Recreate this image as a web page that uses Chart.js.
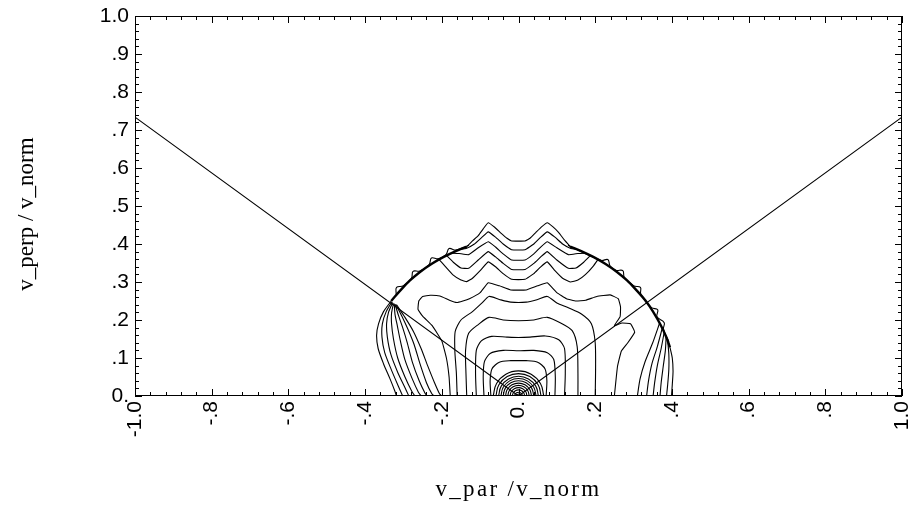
<!DOCTYPE html>
<html><head><meta charset="utf-8">
<script src="https://cdn.jsdelivr.net/npm/chart.js@4.4.1/dist/chart.umd.min.js"></script>
<style>html,body{margin:0;padding:0;background:#fff}canvas{display:block}</style>
</head><body>
<canvas id="c" width="915" height="529"></canvas>
<script>
// ---- axis ticks and titles ----
const xTickVals = [-1, -0.8, -0.6, -0.4, -0.2, 0, 0.2, 0.4, 0.6, 0.8, 1];
const xTickLabels = ['-1.0', '-.8', '-.6', '-.4', '-.2', '0.', '.2', '.4', '.6', '.8', '1.0'];
const yTickVals = [0, 0.1, 0.2, 0.3, 0.4, 0.5, 0.6, 0.7, 0.8, 0.9, 1];
const yTickLabels = ['0.', '.1', '.2', '.3', '.4', '.5', '.6', '.7', '.8', '.9', '1.0'];
const xTitle = 'v_par /v_norm';
const yTitle = 'v_perp / v_norm';

// ---- straight lines from origin ----
const diagLine = [[-1, 0.734], [0, 0], [1, 0.734]];

// ---- thick bunched arcs ----
const arcLeft = [[-0.332,0.250],[-0.308,0.278],[-0.283,0.304],[-0.256,0.327],[-0.226,0.348],[-0.195,0.366],[-0.162,0.382],[-0.135,0.393]];
const arcRight = [[0.135,0.393],[0.162,0.382],[0.195,0.366],[0.226,0.348],[0.256,0.327],[0.283,0.304],[0.308,0.278],[0.332,0.250],[0.352,0.220],[0.370,0.188],[0.385,0.156],[0.395,0.128]];

// ---- scalloped outer contours ----
const scallopLeft = [[-0.319,0.268],[-0.318,0.286],[-0.300,0.290],[-0.279,0.310],[-0.275,0.328],[-0.257,0.329],[-0.233,0.346],[-0.227,0.363],[-0.2085,0.361],[-0.189,0.372],[-0.181,0.388],[-0.163,0.384],[-0.129,0.397]];
const scallopRight = [[0.129,0.397],[0.215,0.357],[0.233,0.359],[0.239,0.342],[0.254,0.331],[0.272,0.330],[0.276,0.312],[0.300,0.290],[0.318,0.286],[0.319,0.268],[0.346,0.233],[0.363,0.227],[0.361,0.2085],[0.380,0.193],[0.378,0.176],[0.392,0.143]];

// ---- left fan contours ----
const fanL1 = [[-0.332,0.250],[-0.352,0.222],[-0.365,0.19],[-0.370,0.16],[-0.366,0.125],[-0.352,0.085],[-0.335,0.045],[-0.322,0.012],[-0.318,0]];
const fanL2 = [[-0.330,0.248],[-0.345,0.222],[-0.355,0.19],[-0.356,0.155],[-0.349,0.115],[-0.332,0.07],[-0.313,0.025],[-0.302,0]];
const fanL3 = [[-0.328,0.246],[-0.339,0.22],[-0.344,0.19],[-0.342,0.155],[-0.333,0.11],[-0.314,0.06],[-0.295,0.02],[-0.286,0]];
const fanL4 = [[-0.326,0.244],[-0.331,0.218],[-0.331,0.19],[-0.326,0.15],[-0.315,0.10],[-0.296,0.05],[-0.278,0.012],[-0.270,0]];
const fanL5 = [[-0.324,0.243],[-0.322,0.215],[-0.316,0.185],[-0.308,0.145],[-0.296,0.095],[-0.277,0.045],[-0.261,0.01],[-0.254,0]];
const fanL6 = [[-0.322,0.242],[-0.313,0.212],[-0.302,0.18],[-0.290,0.14],[-0.277,0.09],[-0.259,0.04],[-0.244,0.008],[-0.238,0]];
const fanL7 = [[-0.320,0.241],[-0.304,0.21],[-0.288,0.175],[-0.272,0.135],[-0.257,0.085],[-0.240,0.035],[-0.226,0.006],[-0.220,0]];
const fanL8 = [[-0.318,0.240],[-0.296,0.207],[-0.274,0.17],[-0.254,0.125],[-0.237,0.08],[-0.219,0.035],[-0.206,0.006],[-0.200,0]];

// ---- right fan contours ----
const fanR1 = [[0.395,0.128],[0.401,0.10],[0.403,0.065],[0.401,0.03],[0.399,0]];
const fanR2 = [[0.389,0.145],[0.392,0.11],[0.392,0.07],[0.389,0.03],[0.386,0]];
const fanR3 = [[0.385,0.157],[0.383,0.12],[0.377,0.075],[0.372,0.035],[0.369,0]];
const fanR4 = [[0.380,0.168],[0.372,0.125],[0.362,0.08],[0.355,0.035],[0.351,0]];
const fanR5 = [[0.375,0.179],[0.362,0.13],[0.348,0.085],[0.339,0.04],[0.334,0]];
const fanR6 = [[0.368,0.192],[0.35,0.14],[0.33,0.09],[0.317,0.045],[0.310,0]];

// ---- wavy upper contours ----
const wave1 = [[-0.135,0.393],[-0.12,0.408],[-0.105,0.422],[-0.092,0.44],[-0.079,0.456],[-0.062,0.444],[-0.045,0.428],[-0.03,0.415],[-0.018,0.408],[0.017,0.408],[0.03,0.415],[0.045,0.43],[0.06,0.445],[0.075,0.456],[0.09,0.445],[0.105,0.43],[0.12,0.41],[0.135,0.393]];
const wave2 = [[-0.155,0.385],[-0.135,0.389],[-0.115,0.4],[-0.095,0.418],[-0.079,0.432],[-0.06,0.418],[-0.04,0.4],[-0.018,0.385],[0.017,0.385],[0.04,0.4],[0.058,0.418],[0.075,0.432],[0.095,0.418],[0.115,0.4],[0.135,0.389],[0.155,0.385]];
const wave3 = [[-0.175,0.376],[-0.155,0.375],[-0.13,0.372],[-0.105,0.39],[-0.079,0.406],[-0.06,0.392],[-0.04,0.374],[-0.018,0.358],[0.017,0.358],[0.04,0.374],[0.058,0.392],[0.075,0.406],[0.1,0.39],[0.13,0.372],[0.155,0.375],[0.175,0.376]];
const wave4 = [[-0.188,0.37],[-0.17,0.352],[-0.15,0.337],[-0.13,0.336],[-0.105,0.358],[-0.079,0.38],[-0.06,0.366],[-0.04,0.349],[-0.018,0.333],[0.017,0.333],[0.04,0.349],[0.058,0.366],[0.075,0.38],[0.1,0.358],[0.13,0.336],[0.15,0.337],[0.17,0.352],[0.188,0.37]];
const wave5 = [[-0.207,0.359],[-0.19,0.34],[-0.17,0.318],[-0.15,0.305],[-0.135,0.301],[-0.12,0.31],[-0.1,0.33],[-0.079,0.353],[-0.06,0.34],[-0.04,0.322],[-0.018,0.307],[0.017,0.307],[0.04,0.322],[0.058,0.34],[0.075,0.353],[0.095,0.33],[0.115,0.31],[0.135,0.3],[0.155,0.305],[0.175,0.32],[0.195,0.342],[0.207,0.359]];

// ---- pocket contour ----
const pocket = [[-0.178,0],[-0.181,0.05],[-0.188,0.10],[-0.2,0.145],[-0.225,0.185],[-0.25,0.21],[-0.262,0.228],[-0.26,0.25],[-0.25,0.262],[-0.23,0.265],[-0.205,0.263],[-0.18,0.252],[-0.161,0.246],[-0.145,0.25],[-0.128,0.256],[-0.1,0.272],[-0.079,0.298],[-0.05,0.29],[-0.02,0.279],[0.02,0.279],[0.05,0.29],[0.075,0.298],[0.1,0.272],[0.125,0.256],[0.15,0.25],[0.175,0.252],[0.204,0.262],[0.239,0.266],[0.26,0.256],[0.266,0.235],[0.265,0.209],[0.25,0.185],[0.27,0.192],[0.292,0.19],[0.303,0.168],[0.285,0.14],[0.268,0.118],[0.258,0.077],[0.25,0]];

// ---- arch contours ----
const archE = [[-0.16,0],[-0.162,0.06],[-0.166,0.12],[-0.165,0.17],[-0.15,0.2],[-0.12,0.222],[-0.095,0.245],[-0.077,0.262],[-0.05,0.254],[-0.02,0.247],[0.02,0.247],[0.05,0.254],[0.075,0.262],[0.1,0.245],[0.13,0.232],[0.165,0.215],[0.19,0.19],[0.2,0.14],[0.201,0.07],[0.2,0]];
const archD = [[-0.135,0],[-0.137,0.06],[-0.138,0.12],[-0.13,0.165],[-0.105,0.188],[-0.077,0.207],[-0.04,0.2],[0,0.198],[0.04,0.2],[0.075,0.207],[0.11,0.192],[0.14,0.172],[0.153,0.13],[0.155,0.06],[0.155,0]];
const archC = [[-0.11,0],[-0.112,0.06],[-0.11,0.12],[-0.097,0.145],[-0.07,0.157],[-0.03,0.155],[0,0.154],[0.03,0.155],[0.07,0.158],[0.105,0.148],[0.12,0.125],[0.122,0.06],[0.12,0]];
const archB = [[-0.09,0],[-0.092,0.05],[-0.089,0.09],[-0.074,0.112],[-0.04,0.12],[0,0.119],[0.04,0.12],[0.075,0.114],[0.092,0.096],[0.096,0.05],[0.095,0]];
const archA = [[-0.072,0],[-0.074,0.04],[-0.069,0.072],[-0.05,0.089],[-0.02,0.093],[0,0.093],[0.02,0.093],[0.05,0.089],[0.069,0.072],[0.074,0.04],[0.072,0]];

// ---- small rings round the origin ----
const ring1 = [[.005,0],[.0043,.0025],[.0025,.0043],[0,.005],[-.0025,.0043],[-.0043,.0025],[-.005,0]];
const ring2 = [[.01,0],[.0087,.005],[.005,.0087],[0,.01],[-.005,.0087],[-.0087,.005],[-.01,0]];
const ring3 = [[.016,0],[.0139,.008],[.008,.0139],[0,.016],[-.008,.0139],[-.0139,.008],[-.016,0]];
const ring4 = [[.022,0],[.0191,.011],[.011,.0191],[0,.022],[-.011,.0191],[-.0191,.011],[-.022,0]];
const ring5 = [[.028,0],[.0242,.014],[.014,.0242],[0,.028],[-.014,.0242],[-.0242,.014],[-.028,0]];
const ring6 = [[.034,0],[.0294,.017],[.017,.0294],[0,.034],[-.017,.0294],[-.0294,.017],[-.034,0]];
const ring7 = [[.04,0],[.0346,.02],[.02,.0346],[0,.04],[-.02,.0346],[-.0346,.02],[-.04,0]];
const ring8 = [[.046,0],[.0398,.023],[.023,.0398],[0,.046],[-.023,.0398],[-.0398,.023],[-.046,0]];
const ring9 = [[.052,0],[.045,.026],[.026,.045],[0,.052],[-.026,.045],[-.045,.026],[-.052,0]];
const ring10 = [[.059,0],[.0511,.0295],[.0295,.0511],[0,.059],[-.0295,.0511],[-.0511,.0295],[-.059,0]];
const ring11 = [[.066,0],[.0572,.033],[.033,.0572],[0,.066],[-.033,.0572],[-.0572,.033],[-.066,0]];

const fanContours = [fanL1, fanL2, fanL3, fanL4, fanL5, fanL6, fanL7, fanL8,
  fanR1, fanR2, fanR3, fanR4, fanR5, fanR6, archE, archD, archC, archB, archA];
const jaggedContours = [wave1, wave2, wave3, wave4, wave5, pocket];
const scallops = [scallopLeft, scallopRight];
const rings = [ring1, ring2, ring3, ring4, ring5, ring6, ring7, ring8, ring9, ring10, ring11];

const toPts = a => a.map(p => ({x: p[0], y: p[1]}));
const datasets = [];
fanContours.forEach(c => datasets.push({data: toPts(c), borderWidth: 1.1, tension: 0.25}));
jaggedContours.forEach(c => datasets.push({data: toPts(c), borderWidth: 1.1, tension: 0.1}));
scallops.forEach(c => datasets.push({data: toPts(c), borderWidth: 1.1, tension: 0.4}));
rings.forEach(c => datasets.push({data: toPts(c), borderWidth: 1.1, tension: 0.45}));
[arcLeft, arcRight].forEach(c => datasets.push({data: toPts(c), borderWidth: 2.4, tension: 0.4}));
datasets.push({data: toPts(diagLine), borderWidth: 1.1, tension: 0});
datasets.forEach(d => Object.assign(d, {showLine: true, pointRadius: 0, borderColor: '#000', fill: false}));

const framePlugin = {
  id: 'frame',
  afterDatasetsDraw(chart) {
    const {ctx, chartArea: {left, right, top, bottom}, scales: {x, y}} = chart;
    ctx.save();
    ctx.strokeStyle = '#000';
    ctx.lineWidth = 1;
    ctx.strokeRect(left + 0.5, top + 0.5, right - left - 1, bottom - top - 1);
    ctx.beginPath();
    for (let i = 0; i <= 50; i++) {
      const v = -1 + i * 0.04;
      const px = Math.round(x.getPixelForValue(v)) + 0.5;
      const len = (i % 5 === 0) ? 7 : 4;
      ctx.moveTo(px, bottom); ctx.lineTo(px, bottom - len);
      ctx.moveTo(px, top); ctx.lineTo(px, top + len);
    }
    for (let i = 0; i <= 50; i++) {
      const v = i * 0.02;
      const py = Math.round(y.getPixelForValue(v)) + 0.5;
      const len = (i % 5 === 0) ? 7 : 4;
      ctx.moveTo(left, py); ctx.lineTo(left + len, py);
      ctx.moveTo(right, py); ctx.lineTo(right - len, py);
    }
    ctx.stroke();
    // axis titles
    ctx.fillStyle = '#000';
    ctx.font = '23px "Liberation Serif"';
    ctx.textAlign = 'center';
    ctx.textBaseline = 'middle';
    try { ctx.letterSpacing = '2.3px'; } catch (e) {}
    ctx.fillText(xTitle, (left + right) / 2, 490);
    try { ctx.letterSpacing = '0px'; } catch (e) {}
    ctx.translate(27, 214);
    ctx.rotate(-Math.PI / 2);
    ctx.fillText(yTitle, 0, 0);
    ctx.restore();
  }
};

const tickFont = {family: 'Liberation Sans', size: 21};

new Chart(document.getElementById('c'), {
  type: 'scatter',
  data: {datasets},
  options: {
    responsive: false,
    animation: false,
    devicePixelRatio: 1,
    layout: {padding: {left: 0, right: 13, top: 16, bottom: 0}},
    plugins: {legend: {display: false}, tooltip: {enabled: false}},
    scales: {
      x: {
        type: 'linear', min: -1, max: 1,
        afterBuildTicks: s => { s.ticks = xTickVals.map(v => ({value: v})); },
        afterFit: s => { s.height = 133; s.paddingLeft = 0; s.paddingRight = 0; },
        grid: {display: false, drawTicks: false},
        border: {display: false},
        ticks: {callback: (v, i) => xTickLabels[i], maxRotation: 90, minRotation: 90, autoSkip: false, padding: 5, color: '#000', font: tickFont},
        title: {display: false}
      },
      y: {
        type: 'linear', min: 0, max: 1,
        afterBuildTicks: s => { s.ticks = yTickVals.map(v => ({value: v})); },
        afterFit: s => { s.width = 135; s.paddingTop = 0; s.paddingBottom = 0; },
        grid: {display: false, drawTicks: false},
        border: {display: false},
        ticks: {callback: (v, i) => yTickLabels[i], autoSkip: false, padding: 6, color: '#000', font: tickFont},
        title: {display: false}
      }
    }
  },
  plugins: [framePlugin]
});
</script></body></html>
